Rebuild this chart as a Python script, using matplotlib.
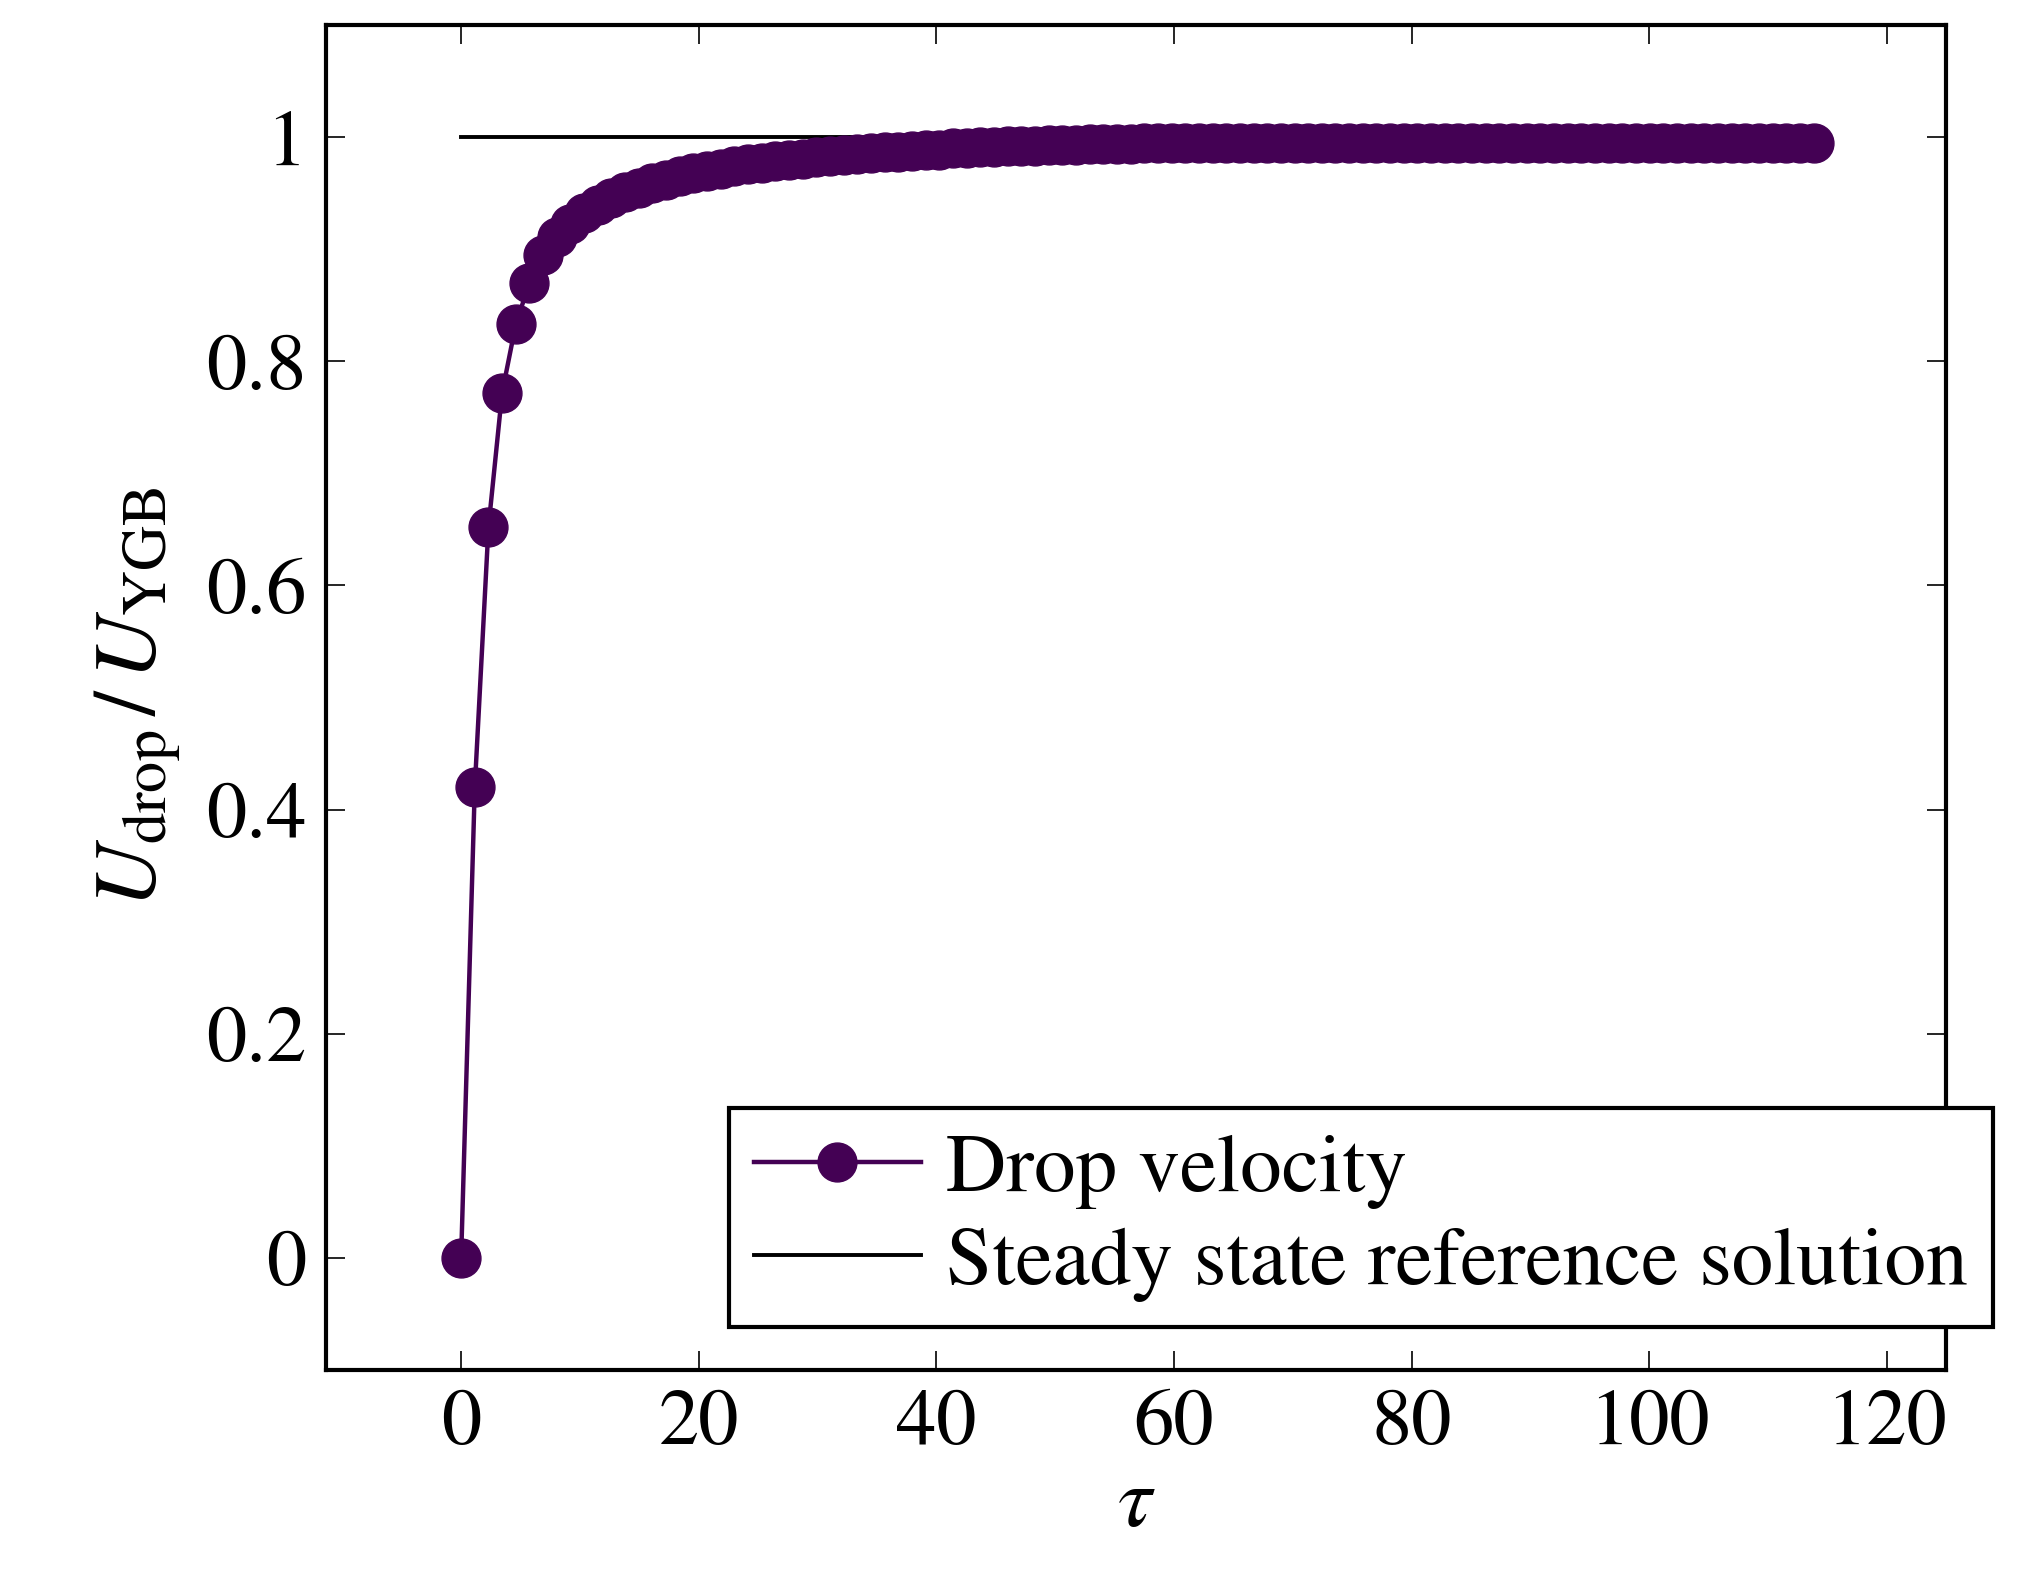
import numpy as np
import matplotlib
matplotlib.use("Agg")
import matplotlib.pyplot as plt

plt.rcParams["mathtext.fontset"] = "stix"
plt.rcParams["font.family"] = "STIXGeneral"

tau_step = 1.15
u_drop = [0.0, 0.42, 0.652, 0.772, 0.833, 0.870, 0.895, 0.911, 0.923, 0.932,
          0.940, 0.946, 0.951, 0.955, 0.959, 0.962, 0.965, 0.968, 0.970, 0.972,
          0.974, 0.976, 0.977, 0.979, 0.980, 0.981, 0.982, 0.983, 0.984, 0.985,
          0.986, 0.987, 0.987, 0.988, 0.989, 0.989, 0.990, 0.990, 0.991, 0.991,
          0.992, 0.992, 0.992, 0.993, 0.993, 0.993, 0.994, 0.994, 0.994, 0.994,
          0.995, 0.995, 0.995, 0.995, 0.995, 0.995, 0.995, 0.995, 0.995, 0.995,
          0.995, 0.995, 0.995, 0.995, 0.995, 0.995, 0.995, 0.995, 0.995, 0.995,
          0.995, 0.995, 0.995, 0.995, 0.995, 0.995, 0.995, 0.995, 0.995, 0.995,
          0.995, 0.995, 0.995, 0.995, 0.995, 0.995, 0.995, 0.995, 0.995, 0.995,
          0.995, 0.995, 0.995, 0.995, 0.995, 0.995, 0.995, 0.995, 0.995, 0.995]
tau = np.arange(len(u_drop)) * tau_step
ref_x = [0, 114]
ref_y = [1, 1]

fig = plt.figure(figsize=(20.23, 15.78), dpi=100)
ax = fig.add_axes([0.161, 0.132, 0.801, 0.852])
ax.plot(ref_x, ref_y, color="black", lw=2.8, label="Steady state reference solution", zorder=1)
ax.plot(tau, u_drop, color="#440154", lw=3.2, marker="o", markersize=28,
        label="Drop velocity", zorder=2)
ax.set_xlim(-11.4, 125)
ax.set_ylim(-0.1, 1.1)
ax.set_xticks([0, 20, 40, 60, 80, 100, 120])
ax.set_yticks([0, 0.2, 0.4, 0.6, 0.8, 1])
ax.set_yticklabels(["0", "0.2", "0.4", "0.6", "0.8", "1"])
ax.tick_params(labelsize=58, direction="in", length=14, width=1.2, top=True, right=True, pad=14)
for s in ax.spines.values():
    s.set_linewidth(3)
ax.set_xlabel(r"$\tau$", fontsize=62, labelpad=4)
ax.set_ylabel(r"$U_{\mathrm{drop}}\,/\,U_{\mathrm{YGB}}$", fontsize=64, labelpad=16)
h, l = ax.get_legend_handles_labels()
leg = ax.legend([h[1], h[0]], [l[1], l[0]], fontsize=60, loc="lower right",
                bbox_to_anchor=(0.985, 0.159), bbox_transform=fig.transFigure,
                fancybox=False, edgecolor="black", framealpha=1, handlelength=2.0,
                handletextpad=0.3, borderpad=0.3, labelspacing=0.2, borderaxespad=0)
leg.get_frame().set_linewidth(3)
fig.savefig("out.png", dpi=100)
